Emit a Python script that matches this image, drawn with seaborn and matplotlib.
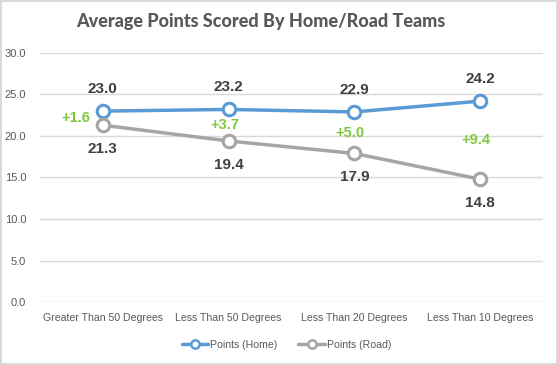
import matplotlib
matplotlib.use("Agg")
import matplotlib.pyplot as plt
from matplotlib.lines import Line2D
import pandas as pd
import seaborn as sns

# ---------- data ----------
categories = ["Greater Than 50 Degrees", "Less Than 50 Degrees",
              "Less Than 20 Degrees", "Less Than 10 Degrees"]
home_pts = [23.0, 23.2, 22.9, 24.2]
road_pts = [21.3, 19.4, 17.9, 14.8]
diff_labels = ["+1.6", "+3.7", "+5.0", "+9.4"]
series_names = ["Points (Home)", "Points (Road)"]

blue = "#5B9BD5"
grey = "#A5A5A5"
green = "#7DC83F"
txt = "#595959"

df = pd.DataFrame({
    "cat": categories * 2,
    "pts": home_pts + road_pts,
    "series": [series_names[0]] * 4 + [series_names[1]] * 4,
})

sns.set_style("white")
plt.rcParams["font.family"] = ["Liberation Sans", "DejaVu Sans"]

fig = plt.figure(figsize=(5.58, 3.65), dpi=100)
fig.patch.set_edgecolor("#D9D9D9")
fig.patch.set_linewidth(1.5)
ax = fig.add_axes([0.0717, 0.1726, 0.9013, 0.6822])

sns.lineplot(data=df, x="cat", y="pts", hue="series",
             palette=[blue, grey], marker="o", markersize=9,
             markerfacecolor="white", markeredgewidth=2.2,
             linewidth=2.5, ax=ax, sort=False, legend=False)
for line, c in zip(ax.lines, [blue, grey]):
    line.set_markeredgecolor(c)

ax.set_xlim(-0.5, 3.5)
ax.set_ylim(0, 30)
ax.set_yticks(range(0, 31, 5))
ax.set_yticklabels([f"{v:.1f}" for v in range(0, 31, 5)])
ax.grid(axis="y", color="#D9D9D9", linewidth=1)
ax.set_axisbelow(True)
for s in ax.spines.values():
    s.set_visible(False)
ax.tick_params(axis="both", length=0, labelsize=8, labelcolor=txt)
ax.tick_params(axis="x", labelsize=7.6, pad=8)
ax.tick_params(axis="y", pad=10)
ax.set_xlabel("")
ax.set_ylabel("")

# data labels
for i, (h, r) in enumerate(zip(home_pts, road_pts)):
    ax.annotate(f"{h:.1f}", (i, h), xytext=(0, 16), textcoords="offset points",
                ha="center", va="center", fontsize=11, fontweight="bold", color="#404040")
    ax.annotate(f"{r:.1f}", (i, r), xytext=(0, -17), textcoords="offset points",
                ha="center", va="center", fontsize=11, fontweight="bold", color="#404040")
    dx = -19.5 if i == 0 else -3
    ax.annotate(diff_labels[i], (i, (h + r) / 2), xytext=(dx, 0), textcoords="offset points",
                ha="center", va="center", fontsize=10.5, fontweight="bold", color=green)

fig.text(0.468, 0.94, "Average Points Scored By Home/Road Teams", ha="center", va="center",
         fontsize=13, fontweight=900, color=txt, family=["Lato", "DejaVu Sans"])

handles = [Line2D([], [], color=c, linewidth=2.5, marker="o", markersize=6,
                  markerfacecolor="white", markeredgecolor=c, markeredgewidth=1.8)
           for c in [blue, grey]]
ax.legend(handles, series_names, loc="center", bbox_to_anchor=(0.49, -0.172), ncol=2,
          frameon=False, fontsize=7.6, labelcolor=txt, handlelength=2.5,
          handletextpad=0.2, columnspacing=2.0)

fig.savefig("out.png", dpi=100)
